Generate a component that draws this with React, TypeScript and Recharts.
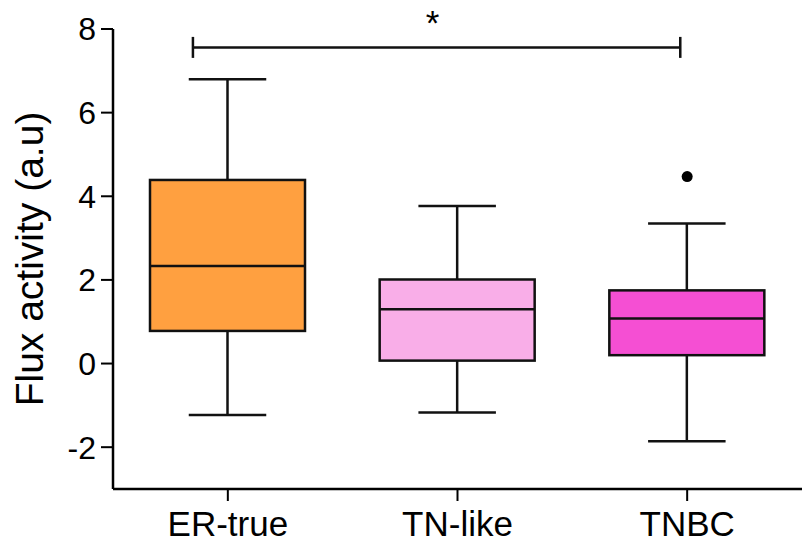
import { ComposedChart, Bar, Scatter, XAxis, YAxis, ReferenceLine, ReferenceDot } from 'recharts'

const groups = ['ER-true', 'TN-like', 'TNBC']
const mins = [-1.23, -1.17, -1.86]
const q1s = [0.78, 0.07, 0.2]
const medians = [2.33, 1.3, 1.08]
const q3s = [4.39, 2.01, 1.75]
const maxs = [6.8, 3.77, 3.35]
const outliers = [null, null, 4.47]
const fills = ['#FFA040', '#F9AEE8', '#F54FD3']
const yTicks = [-2, 0, 2, 4, 6, 8]

// significance bracket ER-true vs TNBC
const bracketFrom = 'ER-true'
const bracketTo = 'TNBC'
const bracketY = 7.56
const starAt = 'TN-like'
const starY = 7.86

const data = groups.map((g, i) => ({
  group: g,
  min: mins[i],
  q1: q1s[i],
  median: medians[i],
  q3: q3s[i],
  max: maxs[i],
  outlier: outliers[i],
  fill: fills[i],
}))

const font = '"Liberation Sans", Arial, sans-serif'
const ink = '#111'

const BoxShape = (props: any) => {
  const { x, y, width, height, payload } = props
  const top = Math.min(y, y + height)
  const h = Math.abs(height)
  const k = h / (payload.q3 - payload.q1)
  const py = (v: number) => top + (payload.q3 - v) * k
  const cx = x + width / 2
  const cap = width / 4
  return (
    <g stroke={ink} strokeWidth={2.5}>
      <line x1={cx} x2={cx} y1={py(payload.max)} y2={top} />
      <line x1={cx} x2={cx} y1={top + h} y2={py(payload.min)} />
      <line x1={cx - cap} x2={cx + cap} y1={py(payload.max)} y2={py(payload.max)} />
      <line x1={cx - cap} x2={cx + cap} y1={py(payload.min)} y2={py(payload.min)} />
      <rect x={x} y={top} width={width} height={h} fill={payload.fill} />
      <line x1={x} x2={x + width} y1={py(payload.median)} y2={py(payload.median)} />
    </g>
  )
}

const OutlierShape = (props: any) => {
  if (props.payload?.outlier == null) return null
  return <circle cx={props.cx} cy={props.cy} r={5.5} fill="#000" />
}

// bracket sits a little left of the category centres, like in the figure
const BracketShape = (props: any) => {
  const { x1, x2, y1 } = props
  const span = (x2 - x1) / 2
  const a = x1 - span * 0.152
  const b = x2 - span * 0.03
  return (
    <g stroke={ink} strokeWidth={2.5}>
      <line x1={a} x2={b} y1={y1} y2={y1} />
      <line x1={a} x2={a} y1={y1 - 10.5} y2={y1 + 10.5} />
      <line x1={b} x2={b} y1={y1 - 10.5} y2={y1 + 10.5} />
    </g>
  )
}

export default function App() {
  return (
    <div style={{ position: 'absolute', left: 0, top: 0 }}>
      <ComposedChart width={802} height={543} data={data} margin={{ top: 29, right: 0, bottom: 0, left: 0 }}>
        <XAxis
          dataKey="group"
          height={54}
          tickSize={12}
          tickMargin={10}
          tick={{ fontSize: 35, fill: '#000', fontFamily: font }}
          axisLine={{ stroke: '#000', strokeWidth: 2.5 }}
          tickLine={{ stroke: '#000', strokeWidth: 2 }}
        />
        <YAxis
          type="number"
          domain={[-3, 8]}
          ticks={yTicks}
          width={113}
          tickSize={12}
          tickMargin={5}
          tick={{ fontSize: 32, fill: '#000', fontFamily: font }}
          axisLine={{ stroke: '#000', strokeWidth: 2.5 }}
          tickLine={{ stroke: '#000', strokeWidth: 2 }}
          allowDataOverflow
          label={{
            content: (p: any) => {
              const vb = p.viewBox
              const lx = vb.x + 43
              const ly = vb.y + vb.height / 2
              return (
                <text x={lx} y={ly} transform={`rotate(-90 ${lx} ${ly})`} textAnchor="middle" fontSize={39} fontFamily={font} fill="#000">
                  Flux activity (a.u)
                </text>
              )
            },
          }}
        />
        <Bar dataKey={(d: any) => [d.q1, d.q3]} barSize={155} shape={BoxShape} isAnimationActive={false} />
        <Scatter dataKey="outlier" shape={OutlierShape} isAnimationActive={false} />
        <ReferenceLine
          segment={[{ x: bracketFrom, y: bracketY }, { x: bracketTo, y: bracketY }]}
          shape={BracketShape}
        />
        <ReferenceDot
          x={starAt}
          y={starY}
          shape={(p: any) => (
            <text x={p.cx - 25} y={p.cy} textAnchor="middle" fontSize={35} fontFamily={font} fill="#000">
              *
            </text>
          )}
        />
      </ComposedChart>
    </div>
  )
}
